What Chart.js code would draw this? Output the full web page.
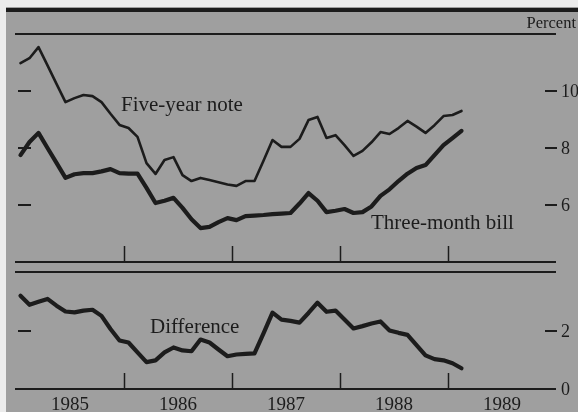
<!DOCTYPE html>
<html lang="en">
  <head>
    <meta charset="UTF-8">
    <title>Chart</title>
    <script src="https://cdn.jsdelivr.net/npm/chart.js@4.4.0/dist/chart.umd.min.js"></script>
    <style>
      body { margin: 0; background: #ececec; }
      #wrap { position: relative; width: 578px; height: 412px; }
      canvas { position: absolute; left: 0; top: 0; }
    </style>
    <script>
      // monthly, Jan 1985 - Dec 1989 (data runs to Feb 1989)
      const years = ['1985', '1986', '1987', '1988', '1989'];
      const months = [];
      years.forEach(y => { for (let m = 1; m <= 12; m++) months.push(y + '-' + String(m).padStart(2, '0')); });

      const fiveYearNote = [
        10.98, 11.15, 11.54, 10.90, 10.25, 9.61, 9.75, 9.86, 9.82, 9.61, 9.20, 8.81,
        8.70, 8.39, 7.47, 7.09, 7.58, 7.68, 7.05, 6.84, 6.95, 6.88, 6.80, 6.72,
        6.67, 6.84, 6.84, 7.55, 8.28, 8.04, 8.04, 8.32, 8.98, 9.09, 8.35, 8.45,
        8.10, 7.72, 7.90, 8.20, 8.56, 8.49, 8.70, 8.95, 8.75, 8.53, 8.80, 9.12,
        9.16, 9.30
      ];
      const threeMonthBill = [
        7.75, 8.21, 8.53, 8.00, 7.48, 6.95, 7.08, 7.12, 7.12, 7.18, 7.26, 7.12,
        7.10, 7.10, 6.60, 6.07, 6.15, 6.25, 5.90, 5.50, 5.19, 5.23, 5.40, 5.54,
        5.47, 5.61, 5.63, 5.65, 5.68, 5.70, 5.72, 6.05, 6.42, 6.15, 5.75, 5.80,
        5.86, 5.72, 5.75, 5.95, 6.32, 6.55, 6.84, 7.10, 7.30, 7.40, 7.75, 8.10,
        8.35, 8.60
      ];
      const difference = [
        3.19, 2.88, 2.98, 3.08, 2.85, 2.65, 2.62, 2.68, 2.71, 2.50, 2.05, 1.66,
        1.59, 1.25, 0.92, 0.98, 1.25, 1.42, 1.32, 1.29, 1.69, 1.59, 1.35, 1.12,
        1.18, 1.20, 1.22, 1.90, 2.61, 2.37, 2.33, 2.27, 2.60, 2.95, 2.64, 2.68,
        2.38, 2.07, 2.15, 2.24, 2.31, 2.00, 1.92, 1.85, 1.50, 1.15, 1.02, 0.98,
        0.88, 0.71
      ];
      const topTicks = [10, 8, 6];
      const bottomTicks = [2, 0];

      const INK = '#1c1c1c';
      const SERIF = '"Liberation Serif", "DejaVu Serif", serif';

      // frame, tick marks and text of one panel
      function panelPlugin(opts) {
        return {
          id: 'panel',
          beforeDatasetsDraw(chart) {
            const ctx = chart.ctx;
            const x = chart.scales.x, y = chart.scales.y;
            const area = chart.chartArea;
            ctx.save();
            if (opts.background) {
              ctx.fillStyle = '#9f9f9f';
              ctx.fillRect(6, 7, 572, 412);
              ctx.fillStyle = INK;
              ctx.fillRect(6, 8, 572, 4);
              ctx.font = '16.5px ' + SERIF;
              ctx.textAlign = 'right';
              ctx.textBaseline = 'alphabetic';
              ctx.fillText('Percent', 576, 28);
            }
            ctx.strokeStyle = INK;
            ctx.lineWidth = 2;
            ctx.beginPath();
            ctx.moveTo(15, area.top); ctx.lineTo(area.right, area.top);
            ctx.moveTo(15, area.bottom); ctx.lineTo(area.right, area.bottom);
            ctx.stroke();
            // year boundaries
            ctx.lineWidth = 1.5;
            ctx.beginPath();
            for (let k = 12; k < months.length; k += 12) {
              const px = Math.round((x.getPixelForValue(k - 1) + x.getPixelForValue(k)) / 2) + 0.5;
              ctx.moveTo(px, area.bottom); ctx.lineTo(px, area.bottom - 16);
            }
            ctx.stroke();
            // value ticks
            ctx.font = '18px ' + SERIF;
            ctx.fillStyle = INK;
            ctx.textAlign = 'left';
            ctx.textBaseline = 'middle';
            ctx.lineWidth = 2;
            opts.ticks.forEach(v => {
              const py = Math.round(y.getPixelForValue(v));
              if (v !== y.min) {
                ctx.beginPath();
                ctx.moveTo(18, py); ctx.lineTo(31, py);
                ctx.moveTo(545, py); ctx.lineTo(557, py);
                ctx.stroke();
              }
              ctx.fillText(String(v), 561, py + 1);
            });
            // series labels
            ctx.font = '21px ' + SERIF;
            opts.labels.forEach(l => ctx.fillText(l.text, l.x, l.y));
            // year labels
            if (opts.years) {
              ctx.textAlign = 'center';
              ctx.font = '19px ' + SERIF;
              years.forEach((yr, i) => {
                const px = (x.getPixelForValue(i * 12 + 5) + x.getPixelForValue(i * 12 + 6)) / 2;
                ctx.fillText(yr, px, area.bottom + 16);
              });
            }
            ctx.restore();
          }
        };
      }

      function lineSet(data, width) {
        return {
          data: data,
          borderColor: INK,
          borderWidth: width,
          pointRadius: 0,
          tension: 0,
          borderJoinStyle: 'round',
          borderCapStyle: 'round'
        };
      }

      function baseOptions(padding, yMin, yMax) {
        return {
          responsive: false,
          animation: false,
          devicePixelRatio: 1,
          layout: { padding: padding },
          plugins: { legend: { display: false }, tooltip: { enabled: false } },
          scales: {
            x: { type: 'category', offset: true, display: false },
            y: { type: 'linear', min: yMin, max: yMax, display: false }
          }
        };
      }

      window.onload = function () {
        new Chart(document.getElementById('top_chart').getContext('2d'), {
          type: 'line',
          data: {
            labels: months,
            datasets: [lineSet(fiveYearNote, 2.6), lineSet(threeMonthBill, 4.2)]
          },
          options: baseOptions({ left: 16, right: 22, top: 34, bottom: 150 }, 4, 12),
          plugins: [panelPlugin({
            background: true,
            ticks: topTicks,
            labels: [
              { text: 'Five-year note', x: 121, y: 105 },
              { text: 'Three-month bill', x: 371, y: 223 }
            ]
          })]
        });
        new Chart(document.getElementById('bottom_chart').getContext('2d'), {
          type: 'line',
          data: {
            labels: months,
            datasets: [lineSet(difference, 4.2)]
          },
          options: baseOptions({ left: 16, right: 22, top: 272, bottom: 23 }, 0, 4),
          plugins: [panelPlugin({
            background: false,
            ticks: bottomTicks,
            years: true,
            labels: [{ text: 'Difference', x: 150, y: 327 }]
          })]
        });
      };
    </script>
  </head>
  <body>
    <div id="wrap">
      <canvas id="top_chart" width="578" height="412"></canvas>
      <canvas id="bottom_chart" width="578" height="412"></canvas>
    </div>
  </body>
</html>
